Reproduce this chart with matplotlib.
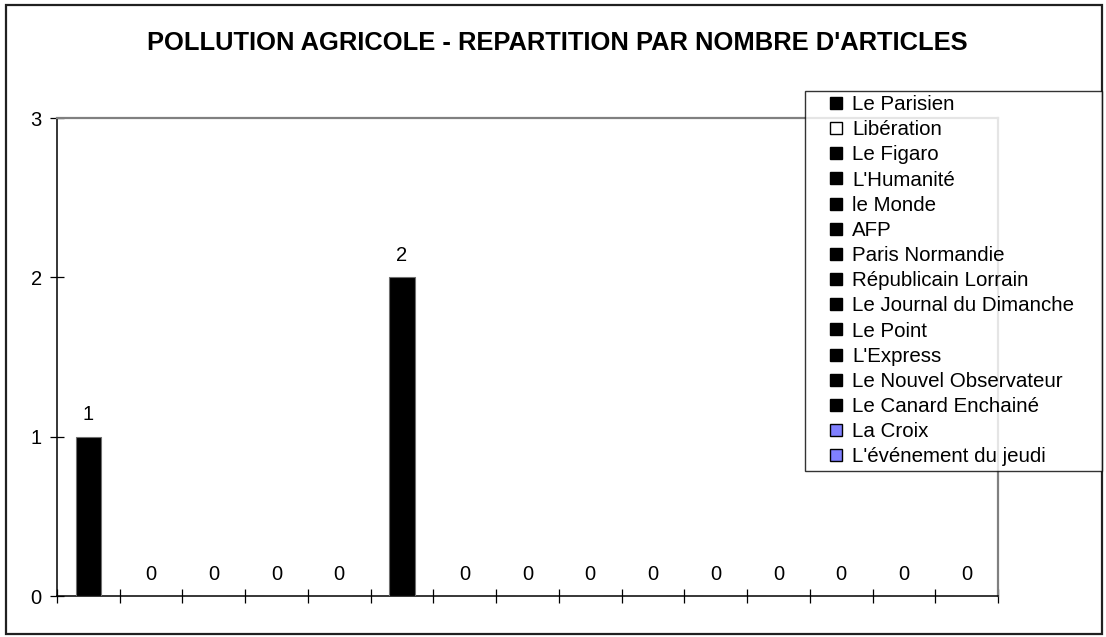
import numpy as np
import matplotlib as mpl
import matplotlib.pyplot as plt
from matplotlib.patches import Rectangle
from matplotlib.lines import Line2D

mpl.rcParams['font.family'] = ['Liberation Sans', 'DejaVu Sans']

# Data ----------------------------------------------------------------------
title = "POLLUTION AGRICOLE - REPARTITION PAR NOMBRE D'ARTICLES"
journaux = ['Le Parisien', 'Libération', 'Le Figaro', "L'Humanité", 'le Monde',
            'AFP', 'Paris Normandie', 'Républicain Lorrain',
            'Le Journal du Dimanche', 'Le Point', "L'Express",
            'Le Nouvel Observateur', 'Le Canard Enchainé', 'La Croix',
            "L'événement du jeudi"]
articles = [1, 0, 0, 0, 0, 2, 0, 0, 0, 0, 0, 0, 0, 0, 0]
couleurs = ['black', 'white'] + ['black'] * 11 + ['#8080ff', '#8080ff']
yticks = [0, 1, 2, 3]

W, H = 1106, 637
fig = plt.figure(figsize=(W / 100, H / 100), dpi=100)

# outer chart frame
fig.patches.append(Rectangle((6 / W, 3 / H), 1096 / W, 629 / H,
                             transform=fig.transFigure, fill=False,
                             edgecolor='#202020', lw=1.6))

x0, x1, ytop, ybot = 57, 998, 118, 596
ax = fig.add_axes([x0 / W, 1 - ybot / H, (x1 - x0) / W, (ybot - ytop) / H])

x = np.arange(len(journaux))
for i in range(len(journaux)):
    ax.bar(x[i], articles[i], width=0.4, color=couleurs[i],
           edgecolor='#707070', linewidth=0.8, zorder=3)
    ax.annotate(str(articles[i]), (x[i], articles[i]), xytext=(0, 9),
                textcoords='offset points', ha='center', va='bottom',
                fontsize=14.5)

ax.set_xlim(-0.5, len(journaux) - 0.5)
ax.set_ylim(0, 3)
ax.set_yticks(yticks)
ax.set_xticks(np.arange(-0.5, len(journaux), 1.0))
ax.set_xticklabels([])
ax.tick_params(axis='both', direction='inout', length=10, width=0.9,
               labelsize=14.5, color='black')
ax.tick_params(axis='y', pad=6)
for s in ['top', 'right']:
    ax.spines[s].set_color('#808080')
    ax.spines[s].set_linewidth(1.6)
for s in ['left', 'bottom']:
    ax.spines[s].set_linewidth(1.1)

fig.text(557 / W, 1 - 43 / H, title, ha='center', va='center',
         fontsize=18.4, fontweight='bold')

handles = [Line2D([], [], ls='none', marker='s', markersize=8,
                  markerfacecolor=c, markeredgecolor='black', markeredgewidth=1.0)
           for c in couleurs]
leg = fig.legend(handles, journaux, loc='upper left',
                 bbox_to_anchor=(805 / W, 1 - 91 / H - 0.01, 297 / W, 0.01),
                 mode='expand', frameon=True, fancybox=False, edgecolor='black',
                 fontsize=14.8, handlelength=2.6, handletextpad=-0.5,
                 labelspacing=0.3, borderpad=0.2, borderaxespad=0)
leg.get_frame().set_linewidth(1.0)

plt.savefig('out.png', dpi=100)
